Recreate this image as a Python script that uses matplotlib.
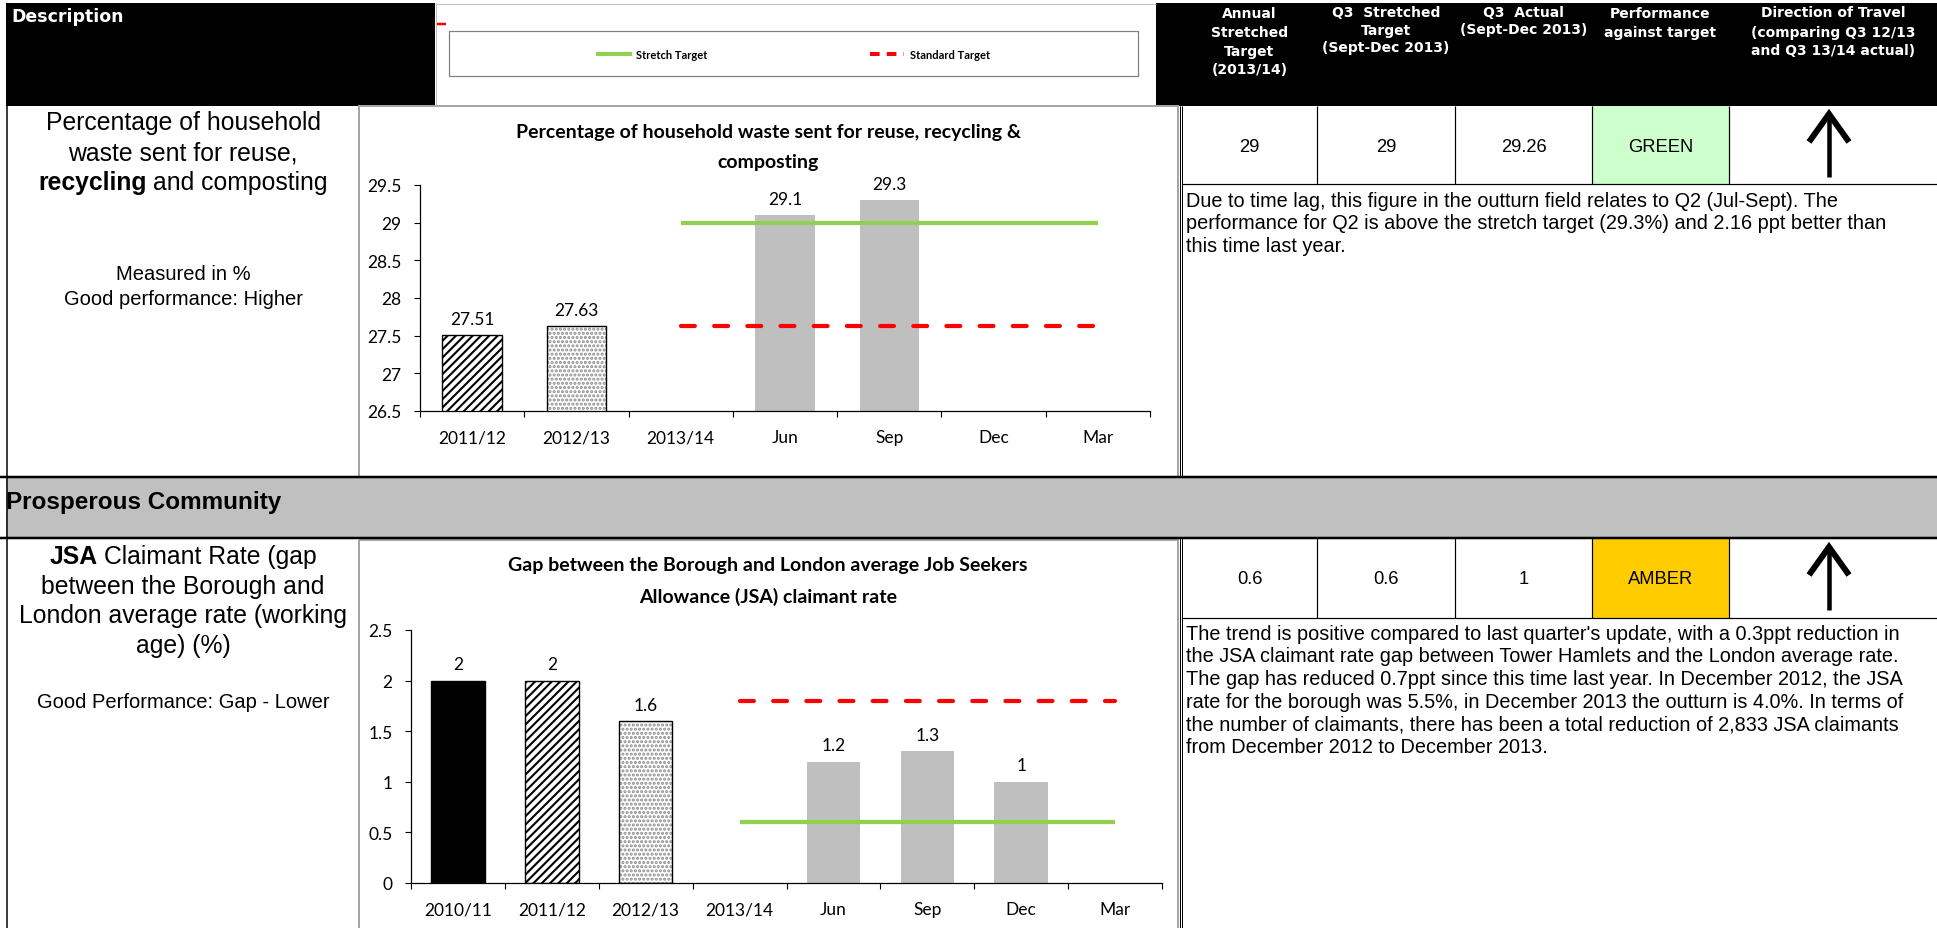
import matplotlib
matplotlib.use("Agg")
import matplotlib.pyplot as plt
from matplotlib.patches import Rectangle
from matplotlib.ticker import FixedLocator
import numpy as np

W, H = 1937, 929

# ---- Recycling indicator -------------------------------------------------
rec_title = ["Percentage of household waste sent for reuse, recycling &", "composting"]
rec_categories = ["2011/12", "2012/13", "2013/14", "Jun", "Sep", "Dec", "Mar"]
rec_values = [27.51, 27.63, None, 29.1, 29.3, None, None]
rec_value_labels = ["27.51", "27.63", "", "29.1", "29.3", "", ""]
rec_bar_styles = ["hatch", "dots", None, "grey", "grey", None, None]
rec_stretch = [None, None, 29, 29, 29, 29, 29]
rec_standard = [None, None, 27.63, 27.63, 27.63, 27.63, 27.63]
rec_yticks = [26.5, 27, 27.5, 28, 28.5, 29, 29.5]
rec_ytick_labels = ["26.5", "27", "27.5", "28", "28.5", "29", "29.5"]
rec_table = ["29", "29", "29.26", "GREEN"]
rec_comment = [
    "Due to time lag, this figure in the outturn field relates to Q2 (Jul-Sept). The",
    "performance for Q2 is above the stretch target (29.3%) and 2.16 ppt better than",
    "this time last year.",
]

# ---- JSA indicator -------------------------------------------------------
jsa_title = ["Gap between the Borough and London average Job Seekers",
             "Allowance (JSA) claimant rate"]
jsa_categories = ["2010/11", "2011/12", "2012/13", "2013/14", "Jun", "Sep", "Dec", "Mar"]
jsa_values = [2, 2, 1.6, None, 1.2, 1.3, 1, None]
jsa_value_labels = ["2", "2", "1.6", "", "1.2", "1.3", "1", ""]
jsa_bar_styles = ["solid", "hatch", "dots", None, "grey", "grey", "grey", None]
jsa_stretch = [None, None, None, 0.6, 0.6, 0.6, 0.6, 0.6]
jsa_standard = [None, None, None, 1.8, 1.8, 1.8, 1.8, 1.8]
jsa_yticks = [0, 0.5, 1, 1.5, 2, 2.5]
jsa_ytick_labels = ["0", "0.5", "1", "1.5", "2", "2.5"]
jsa_table = ["0.6", "0.6", "1", "AMBER"]
jsa_comment = [
    "The trend is positive compared to last quarter's update, with a 0.3ppt reduction in",
    "the JSA claimant rate gap between Tower Hamlets and the London average rate.",
    "The gap has reduced 0.7ppt since this time last year. In December 2012, the JSA",
    "rate for the borough was 5.5%, in December 2013 the outturn is 4.0%. In terms of",
    "the number of claimants, there has been a total reduction of 2,833 JSA claimants",
    "from December 2012 to December 2013.",
]

header_columns = [
    ["Annual", "Stretched", "Target", "(2013/14)"],
    ["Q3  Stretched", "Target", "(Sept-Dec 2013)"],
    ["Q3  Actual", "(Sept-Dec 2013)"],
    ["Performance", "against target"],
    ["Direction of Travel", "(comparing Q3 12/13", "and Q3 13/14 actual)"],
]
legend_labels = ["Stretch Target", "Standard Target"]

GREEN_LINE = "#92D050"
RED = "#FF0000"
BAR_GREY = "#BFBFBF"
BAND_GREY = "#C0C0C0"
FRAME_GREY = "#A6A6A6"
STATUS_FILL = {"GREEN": "#CCFFCC", "AMBER": "#FFCC00"}

plt.rcParams["font.family"] = ["Liberation Sans", "DejaVu Sans"]
plt.rcParams["hatch.linewidth"] = 1.5

fig = plt.figure(figsize=(W / 100, H / 100), dpi=100)
bg = fig.add_axes([0, 0, 1, 1])
bg.set_xlim(0, W)
bg.set_ylim(H, 0)
bg.axis("off")


def pt(px):
    return px * 0.72


def rect(x0, y0, x1, y1, **kw):
    bg.add_patch(Rectangle((x0, y0), x1 - x0, y1 - y0, **kw))


def hline(y, x0, x1, color="black", lw=1.0, **kw):
    bg.plot([x0, x1], [y, y], color=color, lw=pt(lw), solid_capstyle="butt", **kw)


def vline(x, y0, y1, color="black", lw=1.0, **kw):
    bg.plot([x, x], [y0, y1], color=color, lw=pt(lw), solid_capstyle="butt", **kw)


renderer = fig.canvas.get_renderer()


def mixed_line(y, parts, cx, size):
    """Centre a line made of (text, weight) runs at x = cx."""
    gap = 0.278 * size / 0.72
    texts = []
    for s, weight in parts:
        t = bg.text(0, y, s, fontsize=size, fontweight=weight, ha="left", va="center")
        texts.append(t)
    widths = [t.get_window_extent(renderer).width for t in texts]
    total = sum(widths) + gap * (len(texts) - 1)
    x = cx - total / 2
    for t, w in zip(texts, widths):
        t.set_x(x)
        x += w + gap


# ---- header band ---------------------------------------------------------
rect(6, 4, 435, 107, fc="black", ec="none")
rect(1156, 4, W, 107, fc="black", ec="none")
hline(4.5, 435, 1156, color="#BFBFBF", lw=1)
vline(435.5, 4, 107, color="#BFBFBF", lw=1)
bg.text(11, 17, "Description", color="white", fontsize=12.5, fontweight="bold",
        family="DejaVu Sans", ha="left", va="center")
hline(25, 437, 446, color=RED, lw=2.5)

rect(449, 32, 1138, 77, fc="white", ec="#7F7F7F", lw=pt(1.2))
bg.plot([596, 632], [55, 55], color=GREEN_LINE, lw=pt(4), solid_capstyle="butt")
bg.text(636, 55, legend_labels[0], family="Lato", fontweight="bold", fontsize=8,
        ha="left", va="center")
bg.plot([870, 904], [55, 55], color=RED, lw=pt(4), dashes=(2.4, 1.8))
bg.text(910, 55, legend_labels[1], family="Lato", fontweight="bold", fontsize=8,
        ha="left", va="center")

col_edges = [1182, 1317, 1455, 1592, 1729, W]
col_centres = [(a + b) / 2 for a, b in zip(col_edges[:-1], col_edges[1:])]
header_rows = [[14, 33, 52, 70], [13, 31, 48], [13, 30], [14, 33], [13, 33, 51]]
for cx, lines, ys in zip(col_centres, header_columns, header_rows):
    for s, y in zip(lines, ys):
        bg.text(cx, y, s, color="white", fontsize=10, fontweight="bold",
                family="DejaVu Sans", ha="center", va="center")

# ---- grid lines ----------------------------------------------------------
vline(6.5, 107, H, lw=1.5)
rect(359, 107, 1178, 478, fc="none", ec=FRAME_GREY, lw=pt(2))
rect(359, 541, 1178, H + 2, fc="none", ec=FRAME_GREY, lw=pt(2))
for y0, y1 in [(107, 478), (539, H)]:
    vline(1179.5, y0, y1, lw=1)
    vline(1182, y0, y1, lw=1)

rect(6, 478, W, 539, fc=BAND_GREY, ec="none")
hline(478, 0, W, lw=2.5)
hline(539, 0, W, lw=2.5)
bg.text(6, 503, "Prosperous Community", fontsize=17.5, fontweight="bold",
        ha="left", va="center")


def table_row(y0, y1, values, comment, comment_y, arrow_top):
    status = values[-1]
    rect(col_edges[3], y0, col_edges[4], y1, fc=STATUS_FILL[status], ec="none")
    hline(y1, 1182, W, lw=1.2)
    for x in col_edges[1:-1]:
        vline(x, y0, y1, lw=1.2)
    yc = (y0 + y1) / 2 + 1
    for cx, v in zip(col_centres[:4], values):
        bg.text(cx, yc, v, fontsize=13.2, ha="center", va="center")
    # direction-of-travel arrow
    ax_x = col_centres[4] - 4
    bg.plot([ax_x, ax_x], [arrow_top + 4, arrow_top + 63], color="black",
            lw=pt(4.5), solid_capstyle="butt")
    bg.plot([ax_x - 20, ax_x, ax_x + 20], [arrow_top + 28, arrow_top, arrow_top + 28],
            color="black", lw=pt(6), solid_joinstyle="miter", solid_capstyle="butt")
    for i, line in enumerate(comment):
        bg.text(1186, comment_y + i * 22.7, line, fontsize=14.3, ha="left", va="center")


table_row(107, 185, rec_table, rec_comment, 201, 115)
table_row(539, 619, jsa_table, jsa_comment, 634, 548)

# ---- description cells --------------------------------------------------
desc_cx = 183
big = 17.8
bg.text(desc_cx, 123, "Percentage of household", fontsize=big, ha="center", va="center")
bg.text(desc_cx, 153, "waste sent for reuse,", fontsize=big, ha="center", va="center")
mixed_line(183, [("recycling", "bold"), ("and composting", "normal")], desc_cx, big)
bg.text(desc_cx, 274, "Measured in %", fontsize=14.5, ha="center", va="center")
bg.text(desc_cx, 299, "Good performance: Higher", fontsize=14.5, ha="center", va="center")

mixed_line(557, [("JSA", "bold"), ("Claimant Rate (gap", "normal")], desc_cx, big)
bg.text(desc_cx, 587, "between the Borough and", fontsize=big, ha="center", va="center")
bg.text(desc_cx, 616, "London average rate (working", fontsize=big, ha="center", va="center")
bg.text(desc_cx, 646, "age) (%)", fontsize=big, ha="center", va="center")
bg.text(desc_cx, 703, "Good Performance: Gap - Lower", fontsize=14.5, ha="center", va="center")

# ---- chart titles --------------------------------------------------------
for title, ys in [(rec_title, [132, 162]), (jsa_title, [566, 597])]:
    for s, y in zip(title, ys):
        bg.text(768, y, s, family="Lato", fontweight="bold", fontsize=14,
                ha="center", va="center")


# ---- charts --------------------------------------------------------------
def bar_chart(rect_px, categories, values, labels, styles, stretch, standard,
              yticks, ytick_labels):
    x0, x1, ytop, ybot = rect_px
    ax = fig.add_axes([x0 / W, 1 - ybot / H, (x1 - x0) / W, (ybot - ytop) / H])
    ax.set_facecolor("none")
    n = len(categories)
    x = np.arange(n)
    for i, (v, style) in enumerate(zip(values, styles)):
        if v is None:
            continue
        if style == "grey":
            ax.bar(i, v, width=0.57, color=BAR_GREY, edgecolor="none", zorder=2)
        elif style == "solid":
            ax.bar(i, v, width=0.57, color="black", edgecolor="black", zorder=2)
        elif style == "hatch":
            ax.bar(i, v, width=0.57, color="white", edgecolor="black", hatch="////",
                   lw=1.0, zorder=2)
        elif style == "dots":
            ax.bar(i, v, width=0.57, color="white", edgecolor="#8C8C8C", hatch="....",
                   lw=0, zorder=2)
            ax.bar(i, v, width=0.57, fill=False, edgecolor="black", lw=1.0, zorder=2)
        ax.annotate(labels[i], (i, v), xytext=(0, 6), textcoords="offset points",
                    ha="center", va="bottom", family="Lato", fontsize=12.5)
    sx = [i for i, v in enumerate(stretch) if v is not None]
    ax.plot(sx, [stretch[i] for i in sx], color=GREEN_LINE, lw=pt(4.2),
            solid_capstyle="butt", zorder=3)
    dx = [i for i, v in enumerate(standard) if v is not None]
    ax.plot(dx, [standard[i] for i in dx], color=RED, lw=pt(4.2), zorder=3,
            dashes=(3.3, 4.6), dash_capstyle="round")
    ax.set_xlim(-0.5, n - 0.5)
    ax.set_ylim(yticks[0], yticks[-1])
    ax.set_yticks(yticks)
    ax.set_yticklabels(ytick_labels, family="Lato", fontsize=12.5)
    ax.set_xticks(x)
    ax.set_xticklabels(categories, family="Lato", fontsize=12.5)
    ax.xaxis.set_minor_locator(FixedLocator(np.arange(n + 1) - 0.5))
    ax.tick_params(axis="x", which="major", length=0, pad=13)
    ax.tick_params(axis="x", which="minor", length=6 * 0.72, width=0.8, direction="out")
    ax.tick_params(axis="y", length=6 * 0.72, width=0.8, direction="out", pad=9)
    for side in ("top", "right"):
        ax.spines[side].set_visible(False)
    for side in ("left", "bottom"):
        ax.spines[side].set_linewidth(0.9)
        ax.spines[side].set_color("black")
    return ax


bar_chart((420, 1150, 186, 412), rec_categories, rec_values, rec_value_labels,
          rec_bar_styles, rec_stretch, rec_standard, rec_yticks, rec_ytick_labels)
bar_chart((411, 1162, 631, 884), jsa_categories, jsa_values, jsa_value_labels,
          jsa_bar_styles, jsa_stretch, jsa_standard, jsa_yticks, jsa_ytick_labels)

fig.savefig("out.png", dpi=100)
